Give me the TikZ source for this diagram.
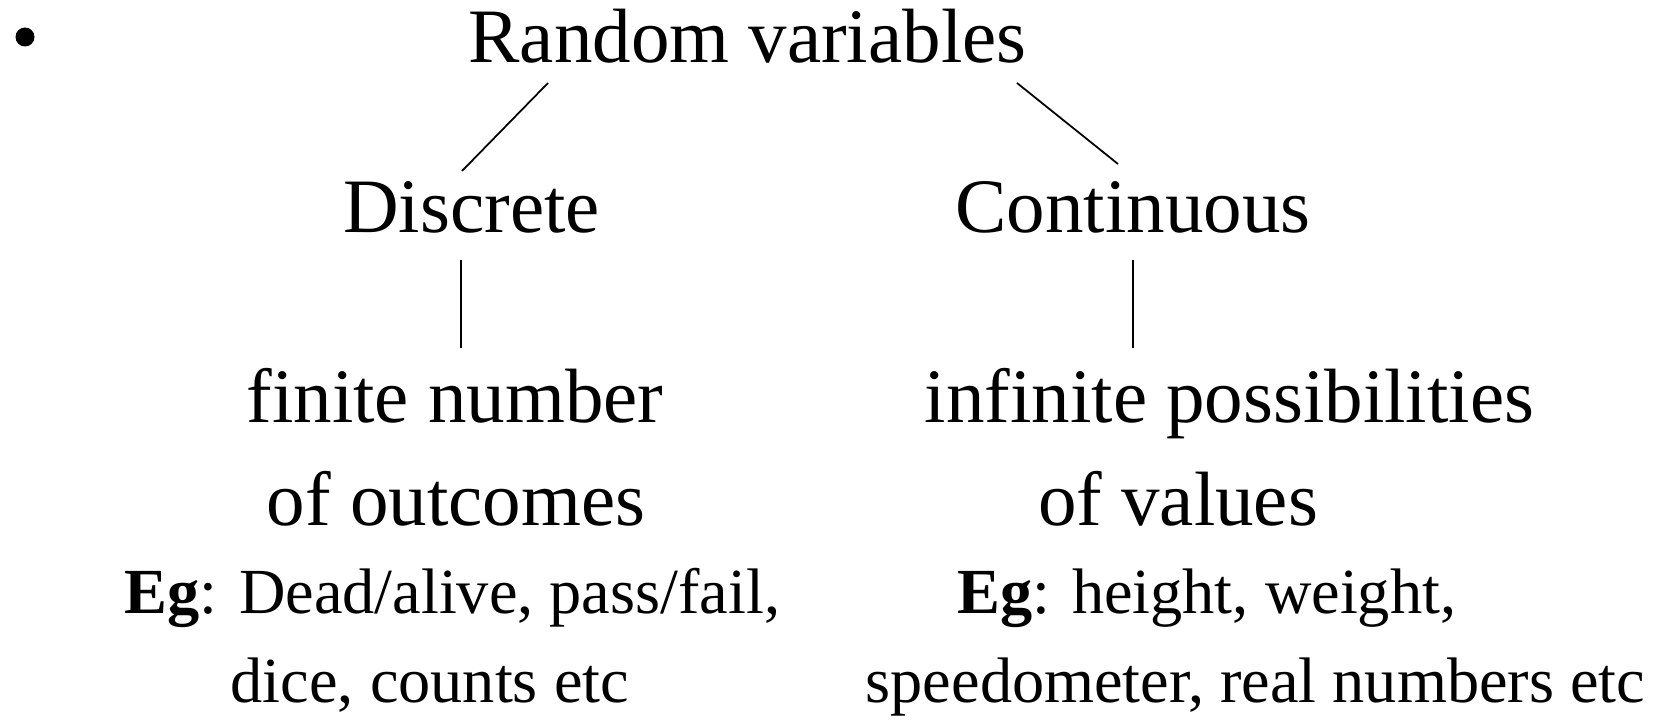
\documentclass[tikz,border=0pt]{standalone}
\usepackage{fontspec}
\setmainfont{Liberation Serif}
\begin{document}
\begin{tikzpicture}[
    big/.style={inner sep=0pt, anchor=base, font=\fontsize{21.9}{26}\selectfont},
    small/.style={inner sep=0pt, anchor=base west, font=\fontsize{18.3}{22}\selectfont},
    branch/.style={line width=0.5pt}]
            \useasboundingbox (0,0) rectangle (16.57,7.21);

            \fill (0.25,6.84) circle (0.095);

            \node[big] (rv) at (7.475,6.58) {Random variables};
            \node[big] (disc) at (4.715,4.88) {Discrete};
            \node[big] (cont) at (11.33,4.88) {Continuous};

            \node[big] (fin) at (4.55,2.99) {finite number};
            \node[big] (fin2) at (4.56,1.96) {of outcomes};
            \node[big] (inf) at (12.295,2.99) {infinite possibilities};
            \node[big] (inf2) at (11.78,1.96) {of values};

            \node[small] (egd) at (1.24,1.08) {\textbf{Eg}: Dead/alive, pass/fail,};
            \node[small] (egd2) at (2.30,0.19) {dice, counts etc};
            \node[small] (egc) at (9.57,1.08) {\textbf{Eg}: height, weight,};
            \node[small] (egc2) at (8.65,0.19) {speedometer, real numbers etc};

            \coordinate (rv-l) at (5.48,6.38);
            \coordinate (rv-r) at (10.17,6.38);
            \coordinate (disc-t) at (4.62,5.50);
            \coordinate (cont-t) at (11.18,5.57);
            \coordinate (disc-b) at (4.61,4.61);
            \coordinate (fin-t) at (4.61,3.73);
            \coordinate (cont-b) at (11.33,4.61);
            \coordinate (inf-t) at (11.33,3.73);

            \draw[branch] (rv-l) -- (disc-t);
            \draw[branch] (rv-r) -- (cont-t);
            \draw[branch] (disc-b) -- (fin-t);
            \draw[branch] (cont-b) -- (inf-t);
\end{tikzpicture}
\end{document}
